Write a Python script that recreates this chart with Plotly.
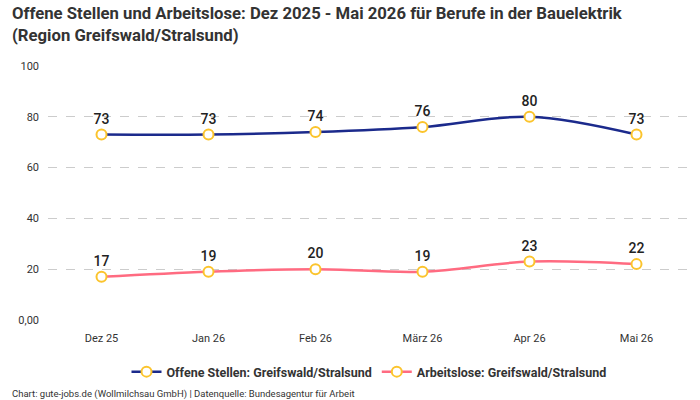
import plotly.graph_objects as go

categories = ["Dez 25", "Jan 26", "Feb 26", "März 26", "Apr 26", "Mai 26"]
offene_stellen = [73, 73, 74, 76, 80, 73]
arbeitslose = [17, 19, 20, 19, 23, 22]
y_tickvals = [0, 20, 40, 60, 80, 100]
y_ticktext = ["0,00", "20", "40", "60", "80", "100"]

FONT = "Roboto"
marker = dict(size=10, color="white", line=dict(color="#FBC42D", width=2))

fig = go.Figure()
fig.add_trace(go.Scatter(
    x=categories, y=offene_stellen, name="Offene Stellen: Greifswald/Stralsund",
    mode="lines+markers+text", text=[str(v) for v in offene_stellen],
    textposition="top center", textfont=dict(size=14, color="#222", family=FONT, weight=500),
    line=dict(color="#1B2A8C", width=2.5, shape="spline"), marker=marker,
    cliponaxis=False))
fig.add_trace(go.Scatter(
    x=categories, y=arbeitslose, name="Arbeitslose: Greifswald/Stralsund",
    mode="lines+markers+text", text=[str(v) for v in arbeitslose],
    textposition="top center", textfont=dict(size=14, color="#222", family=FONT, weight=500),
    line=dict(color="#FF6B81", width=2.5, shape="spline"), marker=marker,
    cliponaxis=False))

PH = 254.0
fig.update_layout(
    width=700, height=400, margin=dict(l=48, r=10, t=66, b=80, autoexpand=False),
    paper_bgcolor="white", plot_bgcolor="white",
    font=dict(family=FONT, color="#333", size=11),
    xaxis=dict(type="category", range=[-0.5, 5.5], showgrid=False, zeroline=False,
               showline=False, ticks="", automargin=False, ticklabelstandoff=10,
               tickfont=dict(size=11, color="#333")),
    yaxis=dict(range=[0, 100], tickvals=y_tickvals, ticktext=y_ticktext,
               showgrid=True, gridcolor="#CCCCCC", griddash="dash", gridwidth=1,
               zeroline=False, showline=False, ticks="", ticklabelstandoff=8,
               automargin=False, tickfont=dict(size=11, color="#333")),
    legend=dict(orientation="h", x=0.5, xanchor="center", y=-(37 / PH), yanchor="top",
                font=dict(size=12.5, color="#333", family=FONT, weight="bold")),
    showlegend=True,
)
fig.add_annotation(text="<b>Offene Stellen und Arbeitslose: Dez 2025 - Mai 2026 für Berufe in der Bauelektrik<br>(Region Greifswald/Stralsund)</b>",
                   xref="paper", yref="paper", x=-38 / 642, y=1 + 64 / PH,
                   xanchor="left", yanchor="top", align="left", showarrow=False,
                   font=dict(size=16.7, color="#333", family=FONT))
fig.add_annotation(text="Chart: gute-jobs.de (Wollmilchsau GmbH) | Datenquelle: Bundesagentur für Arbeit",
                   xref="paper", yref="paper", x=-38 / 642, y=-(74 / PH), xanchor="left", yanchor="middle",
                   showarrow=False, font=dict(size=9.5, color="#333", family=FONT))
fig.write_html("out.html")
